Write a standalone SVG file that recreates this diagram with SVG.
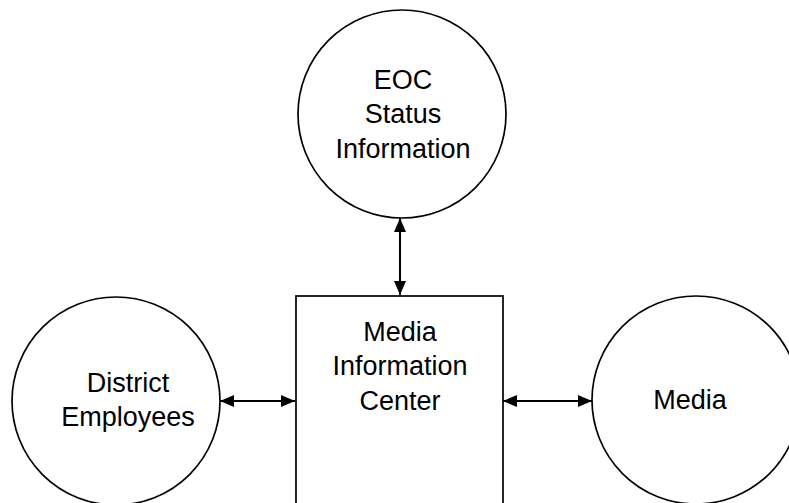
<svg xmlns="http://www.w3.org/2000/svg" width="789" height="503" viewBox="0 0 789 503">
  <style>
    .shape { fill: #ffffff; stroke: #000000; stroke-width: 1.7; }
    .label { font-family: "Liberation Sans", Arial, sans-serif; font-size: 27px; fill: #000000; text-anchor: middle; }
    .link { stroke: #000000; stroke-width: 2; fill: none; marker-start: url(#arrow); marker-end: url(#arrow); }
  </style>
  <defs>
    <marker id="arrow" viewBox="0 0 14 12" refX="14" refY="6" markerWidth="14" markerHeight="12" markerUnits="userSpaceOnUse" orient="auto-start-reverse">
      <path d="M0,0 L14,6 L0,12 Z" fill="#000000"/>
    </marker>
  </defs>
  <rect width="789" height="503" fill="#ffffff"/>

  <g id="connectors">
    <line class="link" x1="400" y1="218" x2="400" y2="295"/>
    <line class="link" x1="220" y1="401" x2="295" y2="401"/>
    <line class="link" x1="503" y1="401" x2="592" y2="401"/>
  </g>

  <g id="eoc-status">
    <circle class="shape" cx="402" cy="114" r="104"/>
    <text class="label" x="403" y="89">EOC</text>
    <text class="label" x="403" y="123">Status</text>
    <text class="label" x="403" y="158">Information</text>
  </g>

  <g id="district-employees">
    <circle class="shape" cx="116" cy="401" r="104"/>
    <text class="label" x="128" y="392">District</text>
    <text class="label" x="128" y="426">Employees</text>
  </g>

  <g id="media-information-center">
    <rect class="shape" x="296" y="296" width="207" height="220"/>
    <text class="label" x="400" y="341">Media</text>
    <text class="label" x="400" y="375">Information</text>
    <text class="label" x="400" y="410">Center</text>
  </g>

  <g id="media">
    <circle class="shape" cx="696" cy="400" r="104"/>
    <text class="label" x="690" y="409">Media</text>
  </g>
</svg>
